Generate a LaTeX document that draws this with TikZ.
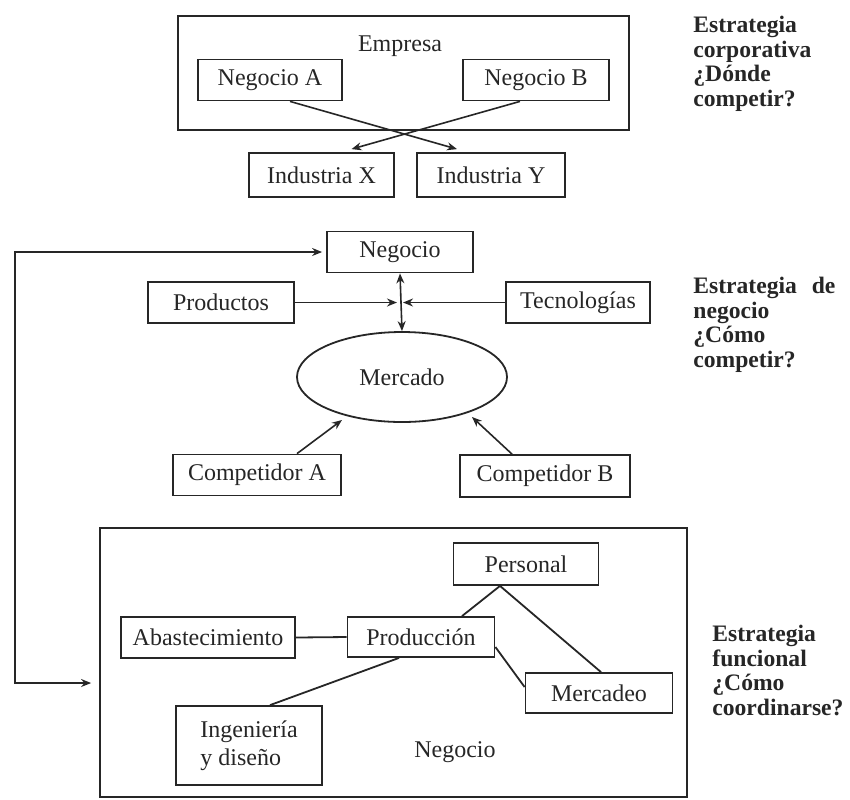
\documentclass[tikz,border=0pt]{standalone}
\usepackage{fontspec}
\setmainfont{Liberation Serif}
\usetikzlibrary{arrows.meta,calc,shapes.geometric}

\tikzset{
    caja/.style={draw, line width=0.9pt, inner sep=0pt, minimum height=20.5pt,
        font=\fontsize{12}{14}\selectfont},
    marco/.style={draw, line width=0.9pt, inner sep=0pt},
    flecha/.style={-{Stealth[length=5pt,width=4pt]}, line width=0.8pt},
    linea/.style={line width=0.9pt},
    nota/.style={anchor=north west, align=left, inner sep=0pt,
        font=\fontsize{11.8}{12.3}\selectfont\bfseries},
}

\begin{document}
\begin{tikzpicture}[x=0.5pt, y=-0.5pt, color=black!85]
    \useasboundingbox (0,0) rectangle (850,799);
    % nivel corporativo
    \node[marco, minimum width=225.5pt, minimum height=57pt] (empresa) at (403.5,73) {};
    \node[font=\fontsize{12}{14}\selectfont] (tEmpresa) at (400,46) {Empresa};
    \node[caja, minimum width=72pt] (negA) at (270,80) {Negocio A};
    \node[caja, minimum width=73pt] (negB) at (536,80) {Negocio B};
    \node[caja, minimum width=72.5pt, minimum height=22pt] (indX) at (321.5,175) {Industria X};
    \node[caja, minimum width=74pt, minimum height=22pt] (indY) at (491,175) {Industria Y};
    \draw[flecha] ($(negA.south)+(20,0)$) -- ($(indY.north)+(-34,-3)$);
    \draw[flecha] ($(negB.south)+(-16,0)$) -- ($(indX.north)+(30,-3)$);
    \node[nota] (eCorp) at (693,16) {Estrategia\\corporativa\\¿Dónde\\competir?};

    % nivel de negocio
    \node[caja, minimum width=73pt] (negocio) at (400,252) {Negocio};
    \node[caja, minimum width=73pt] (productos) at (221,302.5) {Productos};
    \node[caja, minimum width=72pt] (tecno) at (578,302.5) {Tecnologías};
    \node[draw, ellipse, line width=0.9pt, minimum width=105pt, minimum height=45pt,
        font=\fontsize{12}{14}\selectfont] (mercado) at (402,377) {Mercado};
    \node[caja, minimum width=84pt] (compA) at (257,475) {Competidor A};
    \node[caja, minimum width=85pt, minimum height=21pt] (compB) at (545,476) {Competidor B};
    \coordinate (cruce) at (negocio.south |- productos.east);
    \draw[flecha] (productos.east) -- ([xshift=-1.5pt]cruce);
    \draw[flecha] (tecno.west) -- ([xshift=1.5pt]cruce);
    \draw[flecha, {Stealth[length=5pt,width=4pt]}-{Stealth[length=5pt,width=4pt]}] (negocio.south) -- (mercado.north);
    \draw[flecha] ($(compA.north)+(40,0)$) -- ($(mercado.center)+(-60,43)$);
    \draw[flecha] ($(compB.north)+(-33,0)$) -- ($(mercado.center)+(70,40)$);
    \node[nota] (eNeg) at (693,277) {\makebox[71pt][s]{Estrategia de}\\negocio\\¿Cómo\\competir?};

    % nivel funcional
    \node[marco, minimum width=293.5pt, minimum height=134.5pt] (funcional) at (393.5,662.5) {};
    \node[font=\fontsize{12}{14}\selectfont] (tNegocio) at (455,752) {Negocio};
    \node[caja, minimum width=72.5pt, minimum height=21pt] (personal) at (526,564) {Personal};
    \node[caja, minimum width=87pt] (abast) at (208,637.5) {Abastecimiento};
    \node[caja, minimum width=73.5pt, minimum height=20pt] (produccion) at (421,637) {Producción};
    \node[caja, minimum width=73.5pt, minimum height=20pt] (mercadeo) at (599,693) {Mercadeo};
    \node[caja, minimum width=73pt, minimum height=39.5pt, align=left] (ingenieria) at (249,745.5) {Ingeniería\\y diseño};
    \draw[linea] (abast.east) -- (produccion.west);
    \draw[linea] ($(produccion.north)+(41,0)$) -- ($(personal.south)+(-26,0)$)
        -- ($(mercadeo.north)+(2,0)$);
    \draw[linea] ($(produccion.east)+(0,10)$) -- ($(mercadeo.west)+(0,-6)$);
    \draw[linea] ($(ingenieria.north)+(21,0)$) -- ($(produccion.south)+(-22,0)$);
    \node[nota] (eFun) at (712,625) {Estrategia\\funcional\\¿Cómo\\coordinarse?};

    % retroalimentacion
    \coordinate (fbArriba) at (15,252);
    \coordinate (fbAbajo) at (15,683);
    \draw[flecha, {Stealth[length=5pt,width=4pt]}-{Stealth[length=5pt,width=4pt]}]
        ([xshift=-2pt]negocio.west) -- (fbArriba) -- (fbAbajo)
        -- ([xshift=-4pt]funcional.west |- fbAbajo);
\end{tikzpicture}
\end{document}
